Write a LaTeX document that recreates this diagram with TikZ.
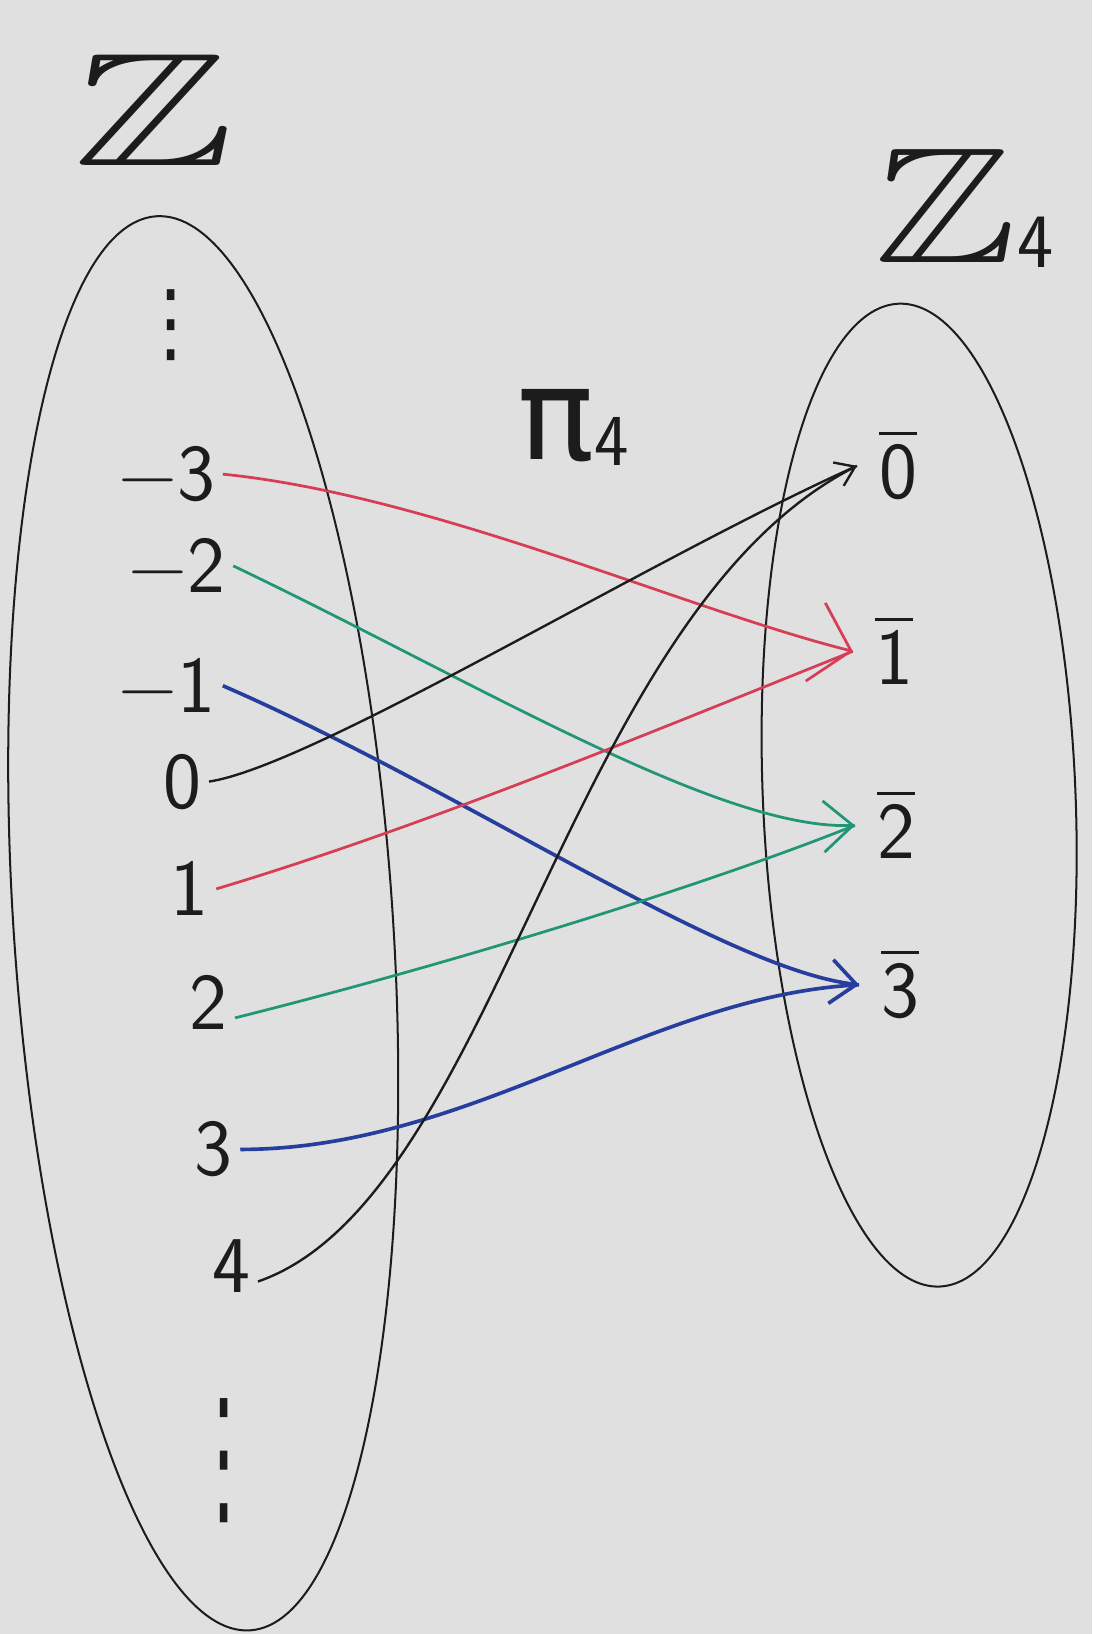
\documentclass[tikz,border=0pt]{standalone}
\usepackage{amssymb}
\usepackage{fontspec}
\newfontfamily\symfont{DejaVu Sans}
\usetikzlibrary{arrows.meta}
\definecolor{boardgray}{RGB}{224,224,224}
\definecolor{penred}{RGB}{214,62,88}
\definecolor{pengreen}{RGB}{32,150,118}
\definecolor{penblue}{RGB}{38,62,158}
\definecolor{penblack}{RGB}{28,28,28}
\newcommand{\clsbar}[1]{\vbox{\hrule height 1.4pt\kern 5pt\hbox{#1}}}
\tikzset{
 oval/.style={draw=penblack,line width=1.1pt},
 num/.style={inner sep=4pt,font=\fontsize{44}{50}\selectfont\sffamily,text=penblack},
 cls/.style={num,inner xsep=12pt},
 setlabel/.style={inner sep=0,text=penblack},
 dotstack/.style={inner sep=0,font=\fontsize{40}{44}\selectfont\symfont,text=penblack},
 mapto/.style={line width=1.5pt},
 redtip/.style={-{Straight Barb[length=20pt,width=44pt]}},
 greentip/.style={-{Straight Barb[length=16pt,width=28pt]}},
 bluetip/.style={-{Straight Barb[length=14pt,width=24pt]}},
 blacktip/.style={-{Straight Barb[length=10pt,width=14pt]}}
}
\begin{document}
\begin{tikzpicture}[x=0.02cm,y=-0.02cm]
\fill[boardgray] (0,0) rectangle (1048,1568);
\useasboundingbox (0,0) rectangle (1048,1568);
% the two sets
\draw[oval,rotate around={3.8:(195,886)}] (195,886) ellipse [x radius=182,y radius=680];
\draw[oval,rotate around={2.4:(882,763)}] (882,763) ellipse [x radius=150,y radius=472];
\node[setlabel] (zlab) at (148,106) {\scalebox{1.5}[1]{\fontsize{88}{92}\selectfont$\mathbb{Z}$}};
\node[setlabel] (zflab) at (925,200) {\scalebox{1.3}[1]{\fontsize{90}{100}\selectfont$\mathbb{Z}$}\raisebox{-0.3em}{\fontsize{42}{46}\selectfont\sffamily 4}};
\node[setlabel] (pilab) at (550,410) {{\fontsize{70}{76}\selectfont\symfont π}\raisebox{-0.35em}{\fontsize{40}{44}\selectfont\sffamily 4}};
% integers
\node[dotstack] (dtop) at (164,312) {\scalebox{1}[1.2]{⋮}};
\node[num] (zm3) at (160,455) {−3};
\node[num] (zm2) at (170,543) {−2};
\node[num] (zm1) at (160,658) {−1};
\node[num] (z0) at (175,750) {0};
\node[num] (z1) at (182,853) {1};
\node[num] (z2) at (200,962) {2};
\node[num] (z3) at (205,1103) {3};
\node[num] (z4) at (222,1215) {4};
\node[dotstack] (dbot) at (215,1402) {\scalebox{1}[2.1]{⋮}};
% classes mod 4
\node[cls] (c0) at (862,447) {\clsbar{0}};
\node[cls] (c1) at (858,625) {\clsbar{1}};
\node[cls] (c2) at (860,792) {\clsbar{2}};
\node[cls] (c3) at (864,945) {\clsbar{3}};
% the map
\draw[mapto,penred,redtip] (zm3.east) .. controls +(200,20) and +(-160,-40) .. (c1.west);
\draw[mapto,pengreen,greentip] (zm2.east) .. controls +(230,110) and +(-130,5) .. (c2.west);
\draw[mapto,line width=2pt,penblue,bluetip] (zm1.east) .. controls +(230,100) and +(-130,-15) .. (c3.west);
\draw[mapto,line width=1.3pt,penblack,blacktip] (z0.east) .. controls +(100,-15) and +(-200,90) .. (c0.west);
\draw[mapto,penred] (z1.east) .. controls +(200,-60) and +(-200,80) .. (c1.west);
\draw[mapto,pengreen] (z2.-30) .. controls +(200,-50) and +(-150,60) .. (c2.west);
\draw[mapto,line width=2pt,penblue] (z3.east) .. controls +(220,0) and +(-200,10) .. (c3.west);
\draw[mapto,line width=1.3pt,penblack] (z4.-30) .. controls +(230,-80) and +(-280,140) .. (c0.west);
\end{tikzpicture}
\end{document}
